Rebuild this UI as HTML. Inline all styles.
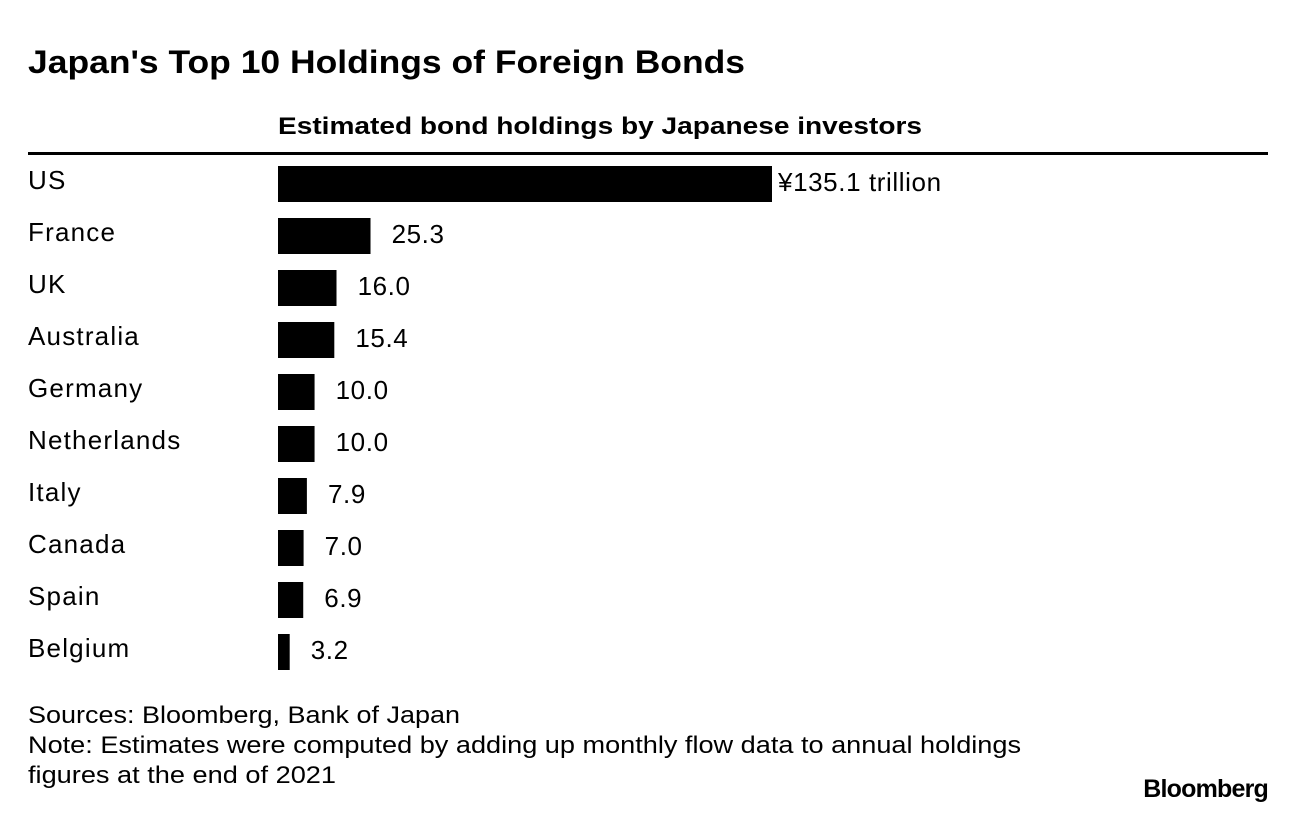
<!DOCTYPE html>
<html><head><meta charset="utf-8"><style>
html,body{margin:0;padding:0;background:#fff;}
body{width:1296px;height:814px;overflow:hidden;font-family:"Liberation Sans",Arial,sans-serif;}
</style></head><body>
<svg width="1296" height="814" xmlns="http://www.w3.org/2000/svg" font-family="Liberation Sans, Arial, sans-serif">
<text x="28" y="73" font-size="32" font-weight="bold" fill="#000" textLength="717" lengthAdjust="spacingAndGlyphs">Japan's Top 10 Holdings of Foreign Bonds</text>
<text x="278" y="134" font-size="24" font-weight="bold" fill="#000" textLength="644" lengthAdjust="spacingAndGlyphs">Estimated bond holdings by Japanese investors</text>
<rect x="28" y="152" width="1240" height="3" fill="#000"/>
<g id="bars"></g>
<text x="28" y="723" font-size="24" fill="#000" textLength="432" lengthAdjust="spacingAndGlyphs">Sources: Bloomberg, Bank of Japan</text>
<text x="28" y="753" font-size="24" fill="#000" textLength="993" lengthAdjust="spacingAndGlyphs">Note: Estimates were computed by adding up monthly flow data to annual holdings</text>
<text x="28" y="783" font-size="24" fill="#000" textLength="308" lengthAdjust="spacingAndGlyphs">figures at the end of 2021</text>
<text x="1268" y="797" font-size="25" font-weight="bold" text-anchor="end" letter-spacing="-0.8" fill="#000">Bloomberg</text>
</svg>
<script>
const categories = ["US","France","UK","Australia","Germany","Netherlands","Italy","Canada","Spain","Belgium"];
const values = [135.1,25.3,16.0,15.4,10.0,10.0,7.9,7.0,6.9,3.2];
const valueLabels = ["135.1 trillion","25.3","16.0","15.4","10.0","10.0","7.9","7.0","6.9","3.2"];

const NS = "http://www.w3.org/2000/svg";
const x0 = 278, xMaxPx = 494, maxVal = 135.1;
function xScale(v){ return v / maxVal * xMaxPx; }
function yRow(i){ return 166 + i * 52; }
const g = document.getElementById("bars");
categories.forEach((c, i) => {
  const y = yRow(i);
  const lab = document.createElementNS(NS, "text");
  lab.setAttribute("x", 28); lab.setAttribute("y", y + 23);
  lab.setAttribute("font-size", "26");
  lab.setAttribute("letter-spacing", "1.2");
  lab.textContent = c;
  
  
  g.appendChild(lab);
  const w = xScale(values[i]);
  const r = document.createElementNS(NS, "rect");
  r.setAttribute("x", x0); r.setAttribute("y", y);
  r.setAttribute("width", w); r.setAttribute("height", 36);
  r.setAttribute("fill", "#000");
  
  
  g.appendChild(r);
  const t = document.createElementNS(NS, "text");
  t.setAttribute("x", x0 + w + 6); t.setAttribute("y", y + 25);
  t.setAttribute("font-size", "26");
  t.setAttribute("letter-spacing", "0.6");
  const yen = document.createElementNS(NS, "tspan");
  yen.textContent = "¥";
  if (i !== 0) yen.setAttribute("fill-opacity", "0");
  t.appendChild(yen);
  t.appendChild(document.createTextNode(valueLabels[i]));
  
  
  g.appendChild(t);
});
</script>
</body></html>
